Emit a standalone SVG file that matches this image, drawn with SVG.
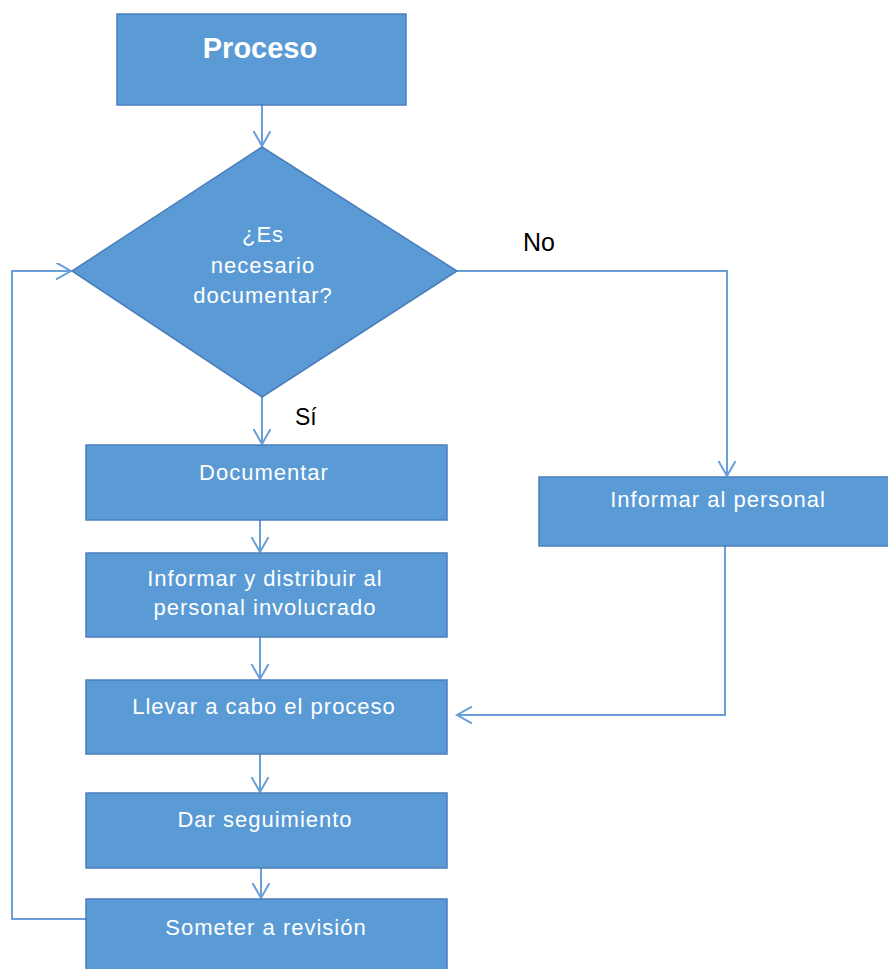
<svg xmlns="http://www.w3.org/2000/svg" width="888" height="969" viewBox="0 0 888 969">
  <style>
    .box { fill: #5B9BD5; stroke: #4A7EBB; stroke-width: 1.5; }
    .lbl { font-family: "Liberation Sans", Arial, sans-serif; font-size: 22px; fill: #FFFFFF; text-anchor: middle; letter-spacing: 1px; }
    .title { font-family: "Liberation Sans", Arial, sans-serif; font-size: 29px; font-weight: bold; fill: #FFFFFF; text-anchor: middle; }
    .tag { font-family: "Liberation Sans", Arial, sans-serif; fill: #000000; }
    .wire { fill: none; stroke: #6A9FD8; stroke-width: 2; }
  </style>
  <defs>
    <marker id="arrow" markerUnits="userSpaceOnUse" markerWidth="18" markerHeight="20" refX="15" refY="8.5" orient="auto">
      <path d="M0,0 L15,8.5 L0,17" fill="none" stroke="#6A9FD8" stroke-width="2"/>
    </marker>
  </defs>

  <rect width="888" height="969" fill="#FFFFFF"/>

  <!-- connectors -->
  <g id="connectors">
    <path class="wire" d="M262,105 L262,146" marker-end="url(#arrow)"/>
    <path class="wire" d="M262,397 L262,444" marker-end="url(#arrow)"/>
    <path class="wire" d="M260,520 L260,552" marker-end="url(#arrow)"/>
    <path class="wire" d="M260,637 L260,679" marker-end="url(#arrow)"/>
    <path class="wire" d="M260,754 L260,792" marker-end="url(#arrow)"/>
    <path class="wire" d="M261,868 L261,898" marker-end="url(#arrow)"/>
    <path class="wire" d="M457,271 L727,271 L727,476" marker-end="url(#arrow)"/>
    <path class="wire" d="M725,546 L725,715 L457,715" marker-end="url(#arrow)"/>
    <path class="wire" d="M86,919 L12,919 L12,271 L71,271" marker-end="url(#arrow)"/>
    <text class="tag" x="295" y="425" font-size="23">Sí</text>
    <text class="tag" x="523" y="251" font-size="25">No</text>
  </g>

  <g id="proceso">
    <rect class="box" x="117" y="14" width="289" height="91"/>
    <text class="title" x="260" y="58">Proceso</text>
  </g>

  <g id="decision">
    <polygon class="box" points="262,147 457,271 262,397 72,271"/>
    <text class="lbl" x="263" y="242">¿Es</text>
    <text class="lbl" x="263" y="273">necesario</text>
    <text class="lbl" x="263" y="303">documentar?</text>
  </g>

  <g id="documentar">
    <rect class="box" x="86" y="445" width="361" height="75"/>
    <text class="lbl" x="264" y="480">Documentar</text>
  </g>

  <g id="informar-distribuir">
    <rect class="box" x="86" y="553" width="361" height="84"/>
    <text class="lbl" x="265" y="586">Informar y distribuir al</text>
    <text class="lbl" x="265" y="615">personal involucrado</text>
  </g>

  <g id="llevar">
    <rect class="box" x="86" y="680" width="361" height="74"/>
    <text class="lbl" x="264" y="714">Llevar a cabo el proceso</text>
  </g>

  <g id="seguimiento">
    <rect class="box" x="86" y="793" width="361" height="75"/>
    <text class="lbl" x="265" y="827">Dar seguimiento</text>
  </g>

  <g id="revision">
    <rect class="box" x="86" y="899" width="361" height="80"/>
    <text class="lbl" x="266" y="935">Someter a revisión</text>
  </g>

  <g id="informar-personal">
    <rect class="box" x="539" y="477" width="360" height="69"/>
    <text class="lbl" x="718" y="507">Informar al personal</text>
  </g>
</svg>
